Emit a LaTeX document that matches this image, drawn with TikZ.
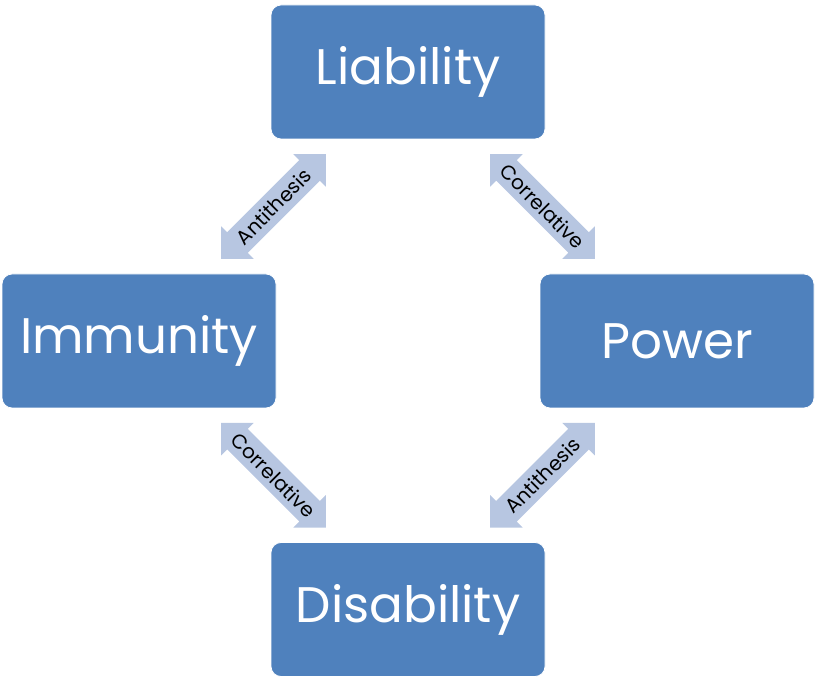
\documentclass[tikz,border=0pt]{standalone}
\usepackage{fontspec}
\setmainfont{Poppins}
\usetikzlibrary{calc}
\definecolor{boxblue}{HTML}{4F81BD}
\definecolor{arrowblue}{HTML}{B7C6E1}
\tikzset{
  box/.style={draw=white, line width=0.8pt, fill=boxblue, rounded corners=10pt,
    minimum width=274pt, minimum height=134pt, inner sep=0pt, text=white,
    font=\fontsize{50}{56}\selectfont},
  lbl/.style={inner sep=0pt, text=black, font=\fontsize{20}{22}\selectfont}
}
\newcommand{\dblarrow}[2]{%
  \begin{scope}[shift={(#1)}, rotate=#2]
    \fill[arrowblue] (74,0) -- (51,23) -- (51,14.5) -- (-51,14.5) -- (-51,23) -- (-74,0)
      -- (-51,-23) -- (-51,-14.5) -- (51,-14.5) -- (51,-23) -- cycle;
  \end{scope}}
\begin{document}
\begin{tikzpicture}[x=1pt,y=1pt]
\useasboundingbox (0,0) rectangle (815,677);
\node[box] (lia) at (408,605) {Liability};
\node[box] (imm) at (139,336) {Immunity};
\node[box] (pow) at (677,336) {Power};
\node[box] (dis) at (408,67.5) {Disability};
\coordinate (a1) at ($(lia.south west)!0.5!(imm.north east)$);
\coordinate (a2) at ($(lia.south east)!0.5!(pow.north west)$);
\coordinate (a3) at ($(imm.south east)!0.5!(dis.north west)$);
\coordinate (a4) at ($(pow.south west)!0.5!(dis.north east)$);
\dblarrow{a1}{45}
\dblarrow{a2}{-45}
\dblarrow{a3}{-45}
\dblarrow{a4}{45}
\node[lbl, rotate=45] (t1) at (a1) {Antithesis};
\node[lbl, rotate=-45] (t2) at (a2) {Correlative};
\node[lbl, rotate=-45] (t3) at (a3) {Correlative};
\node[lbl, rotate=45] (t4) at (a4) {Antithesis};
\end{tikzpicture}
\end{document}
